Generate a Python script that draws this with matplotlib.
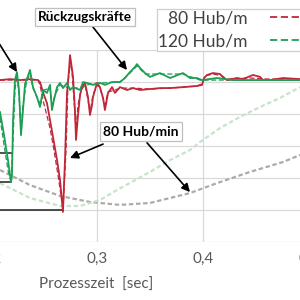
import matplotlib
matplotlib.use('Agg')
import matplotlib.pyplot as plt

plt.rcParams['font.family'] = ['Lato', 'DejaVu Sans']

# Zeitachse [sec] und Kräfte (willkürliche Einheit, Raster 10)
tick_pos = [0.2, 0.3, 0.4, 0.5]
tick_labels = ['0,2', '0,3', '0,4', '0,5']

# 80 Hub/m, durchgezogen
t_red = [0.2085, 0.2179, 0.2274, 0.2368, 0.2443, 0.2462, 0.25, 0.2528, 0.2557, 0.2585,
         0.2623, 0.2651, 0.2679, 0.2698, 0.2717, 0.2736, 0.2745, 0.2755, 0.2774, 0.2792,
         0.2802, 0.2821, 0.284, 0.2858, 0.2887, 0.2915, 0.2934, 0.2953, 0.2962, 0.3,
         0.3028, 0.3057, 0.3075, 0.3104, 0.3142, 0.317, 0.3217, 0.3283, 0.334, 0.3406,
         0.35, 0.3594, 0.3689, 0.3811, 0.3943, 0.3991, 0.4009, 0.4038, 0.4094, 0.416,
         0.4198, 0.4226, 0.4321, 0.4377, 0.4472, 0.4538, 0.4566, 0.4632, 0.4755, 0.4915]
f_red = [50.6, 50.9, 50.6, 50.9, 50.6, 50.0, 45.9, 43.4, 38.1, 32.8,
         25.6, 19.4, 9.4, 25.6, 46.6, 53.75, 58.4, 56.25, 51.6, 41.25,
         31.9, 39.7, 45.9, 48.4, 49.7, 45.3, 39.7, 42.8, 45.3, 49.7,
         48.4, 45.0, 41.25, 46.6, 48.4, 46.6, 48.4, 47.5, 48.1, 47.5,
         47.8, 48.1, 48.1, 48.4, 48.75, 49.1, 51.25, 52.2, 52.8, 52.5,
         51.25, 50.6, 51.25, 50.9, 52.2, 51.6, 50.6, 50.6, 51.25, 50.9]

# 80 Hub/m, gestrichelt
t_red2 = [0.2085, 0.2274, 0.2443, 0.2462, 0.249, 0.2519, 0.2557, 0.2594, 0.2632, 0.266,
          0.2679, 0.2708, 0.2726, 0.2745, 0.2764, 0.2783, 0.2802, 0.2821, 0.2849, 0.2887,
          0.2915, 0.2934, 0.2962, 0.3, 0.3028, 0.3075, 0.3104, 0.317, 0.3217, 0.334,
          0.35, 0.3689, 0.3943, 0.3991, 0.4019, 0.4094, 0.4179, 0.4226, 0.4443, 0.4632, 0.4915]
f_red2 = [50.6, 50.6, 50.6, 49.1, 44.4, 40.6, 35.6, 28.75, 20.9, 14.7,
          10.0, 28.75, 49.1, 56.25, 53.1, 44.4, 35.0, 42.8, 47.5, 49.1,
          44.4, 40.6, 45.9, 49.1, 48.1, 42.8, 46.9, 47.5, 48.1, 48.1,
          47.8, 48.1, 48.75, 49.4, 51.9, 52.5, 51.9, 50.9, 51.25, 50.9, 50.9]

# 120 Hub/m, durchgezogen
t_green = [0.2085, 0.2123, 0.216, 0.2189, 0.2198, 0.2208, 0.2226, 0.2245, 0.2264, 0.2283,
           0.2302, 0.2321, 0.2349, 0.2368, 0.2396, 0.2434, 0.2462, 0.249, 0.2528, 0.2557,
           0.2575, 0.2594, 0.2623, 0.2651, 0.2679, 0.2717, 0.2745, 0.2774, 0.284, 0.2868,
           0.2906, 0.2962, 0.3028, 0.3075, 0.3142, 0.3217, 0.3264, 0.3311, 0.3358, 0.3377,
           0.3406, 0.3453, 0.35, 0.3594, 0.3689, 0.3811, 0.3877, 0.3943, 0.3991, 0.4132,
           0.4283, 0.4443, 0.4632, 0.4915]
f_green = [40.6, 33.4, 25.6, 18.75, 20.9, 38.1, 50.6, 53.1, 47.5, 33.4,
           41.25, 49.4, 51.9, 53.75, 48.4, 45.3, 42.2, 47.5, 46.6, 49.1,
           41.25, 44.4, 48.4, 49.7, 48.1, 49.7, 47.5, 48.4, 47.5, 50.0,
           49.7, 49.1, 49.7, 49.1, 50.0, 50.0, 51.25, 53.1, 54.7, 55.6,
           54.4, 52.8, 51.6, 52.8, 51.25, 52.8, 51.25, 51.25, 50.6, 51.25,
           50.6, 50.6, 50.6, 50.6]

# 120 Hub/m, gestrichelt
t_green2 = [0.2085, 0.2123, 0.216, 0.2189, 0.2208, 0.2226, 0.2245, 0.2264, 0.2283, 0.2302,
            0.233, 0.2368, 0.2396, 0.2443, 0.2472, 0.25, 0.2557, 0.2575, 0.2604, 0.2651,
            0.2745, 0.284, 0.2934, 0.3028, 0.3217, 0.3311, 0.3377, 0.3453, 0.3594, 0.3811,
            0.3972, 0.4443, 0.4915]
f_green2 = [38.75, 30.3, 22.5, 18.75, 31.9, 47.5, 52.2, 45.9, 35.0, 42.8,
            49.1, 52.8, 48.1, 44.4, 43.4, 47.5, 48.1, 42.8, 45.9, 49.1,
            48.1, 48.1, 49.4, 49.7, 50.0, 52.8, 55.0, 52.5, 52.5, 52.5,
            50.6, 50.6, 50.6]

# Hubkurven (80 Hub/min grau, 120 Hub/min hellgrün)
t_stroke80 = [0.2085, 0.2368, 0.2651, 0.2934, 0.3217, 0.35, 0.3689, 0.3877, 0.4132, 0.4443, 0.4755, 0.4915]
s_stroke80 = [22.5, 17.8, 14.4, 12.5, 11.6, 12.2, 13.75, 15.3, 18.4, 21.9, 25.0, 27.2]
t_stroke120 = [0.2085, 0.2368, 0.2651, 0.284, 0.3028, 0.3189, 0.35, 0.3689, 0.3877, 0.3972,
               0.416, 0.4349, 0.4538, 0.4726, 0.4915]
s_stroke120 = [18.4, 13.75, 11.25, 11.25, 13.1, 16.25, 21.9, 25.6, 28.75, 31.25,
               35.6, 39.1, 42.2, 45.0, 48.4]

# schwarze Minimum-Markierungen
min_levels = [10.0, 18.75, 27.8]
min_ends = [0.2679, 0.2189, 0.2198]

red = '#C0283A'
green = '#1E9E55'

fig = plt.figure(figsize=(3, 3), dpi=100)
ax = fig.add_axes([-0.03, 0.1933, 1.06, 0.64])

ax.plot(t_stroke80, s_stroke80, color='#ABABAB', lw=1.6, ls=(0, (2, 1.2)), zorder=2)
ax.plot(t_stroke120, s_stroke120, color='#C9E3CA', lw=1.6, ls=(0, (2, 1.2)), zorder=2)

for lvl, end in zip(min_levels, min_ends):
    ax.plot([0.2, end], [lvl, lvl], color='#202020', lw=1.1, zorder=3)

ax.plot(t_red2, f_red2, color=red, lw=0.9, ls=(0, (4, 2)), zorder=4)
ax.plot(t_green2, f_green2, color=green, lw=0.9, ls=(0, (4, 2)), zorder=4)
ax.plot(t_red, f_red, color=red, lw=1.3, zorder=5)
ax.plot(t_green, f_green, color=green, lw=1.3, zorder=6)

ax.set_xlim(0.2, 0.5)
ax.set_ylim(0, 60)
ax.set_xticks(tick_pos)
ax.set_xticklabels(tick_labels)
ax.set_yticks(range(0, 61, 10))
ax.set_yticklabels([])
ax.tick_params(length=0, pad=7, labelsize=11, colors='#595959')
ax.grid(True, color='#D9D9D9', lw=0.9)
ax.set_axisbelow(True)
for s in ax.spines.values():
    s.set_visible(False)

ax.set_xlabel('Prozesszeit  [sec]', fontsize=11, color='#595959')
ax.xaxis.set_label_coords(0.332, -0.185)

# Legende
h80, = ax.plot([], [], color=red, lw=1.3, ls=(0, (4, 2)))
h120, = ax.plot([], [], color=green, lw=1.3, ls=(0, (4, 2)))
leg = fig.legend([h80, h120], ['80 Hub/m', '120 Hub/m'], loc='lower left',
                 bbox_to_anchor=(0.522, 1 - 51 / 300), markerfirst=False,
                 fontsize=12.5, handlelength=3.5, handletextpad=1.3,
                 labelspacing=0.4, borderpad=0.1, borderaxespad=0,
                 fancybox=False, edgecolor='#CFCFCF', framealpha=1)
leg.get_frame().set_linewidth(0.9)
for txt in leg.get_texts():
    txt.set_color('#404040')

box = dict(boxstyle='square,pad=0.25', fc='white', ec='#BFBFBF', lw=0.9)
arrow = dict(arrowstyle='-|>', color='black', lw=1.2, mutation_scale=12, shrinkA=0, shrinkB=0)

ax.annotate('Rückzugskräfte', xy=(0.3283, 53.75), xytext=(0.2887, 70.3),
            ha='center', va='center', fontsize=9.8, fontweight='bold',
            bbox=box, arrowprops=arrow, annotation_clip=False, zorder=10)
ax.annotate('', xy=(0.2245, 53.1), xytext=(0.1991, 66.6),
            arrowprops=arrow, annotation_clip=False, zorder=10)

ax.annotate('80 Hub/min', xy=(0.3415, 34.4), ha='center', va='center',
            fontsize=10, fontweight='bold', bbox=box, zorder=10)
ax.annotate('', xy=(0.2745, 26.25), xytext=(0.3057, 30.6),
            arrowprops=arrow, zorder=9)
ax.annotate('', xy=(0.3877, 15.6), xytext=(0.3472, 31.0),
            arrowprops=arrow, zorder=9)

fig.savefig('out.png', dpi=100)
